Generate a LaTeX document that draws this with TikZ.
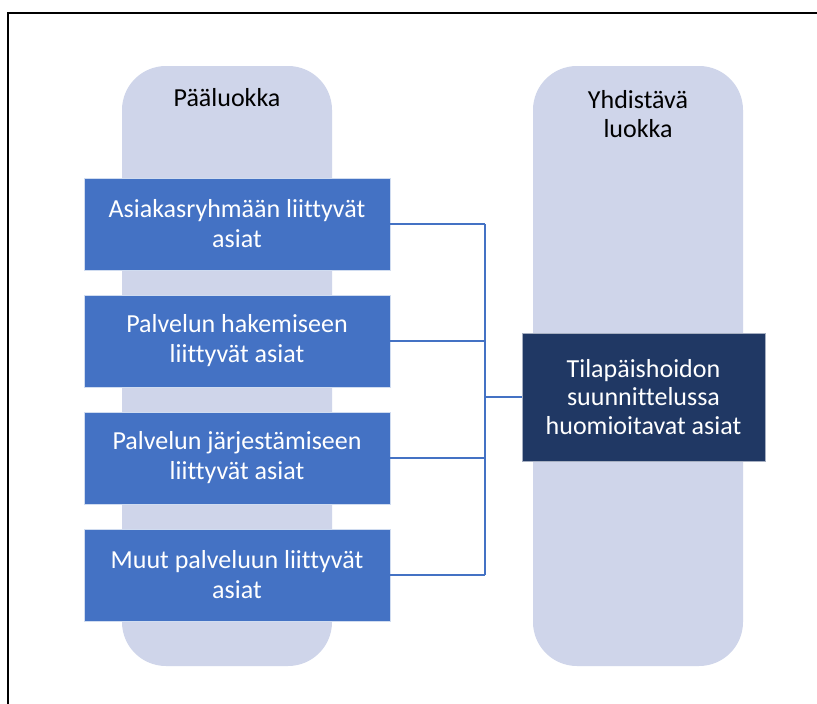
\documentclass[tikz,border=0pt]{standalone}
\usepackage{fontspec}
\setmainfont[Ligatures={NoCommon}]{Carlito}
\begin{document}
\begin{tikzpicture}[x=1pt,y=-1pt,
  lane/.style={fill=laneblue,draw=none,rounded corners=44pt,minimum width=210pt,minimum height=600pt,inner sep=0pt},
  head/.style={text=black,align=center,font=\fontsize{26}{28.5}\selectfont},
  item/.style={fill=itemblue,draw=white!75!itemblue,line width=0.8pt,text=white,align=center,
    minimum width=306pt,minimum height=92pt,inner sep=0pt,font=\fontsize{26}{30}\selectfont},
  result/.style={fill=darkblue,draw=white!60!darkblue,line width=0.8pt,text=white,align=center,
    minimum width=243pt,minimum height=128pt,inner sep=0pt,font=\fontsize{26}{28.5}\selectfont},
  conn/.style={draw=itemblue,line width=1.2pt}]
\definecolor{laneblue}{HTML}{CFD5EA}
\definecolor{itemblue}{HTML}{4472C4}
\definecolor{darkblue}{HTML}{203864}
\useasboundingbox (0,0) rectangle (817,704);
\fill[white] (0,0) rectangle (817,704);
% outer frame, open to the right and bottom
\draw[black,line width=2pt] (8.3,704) -- (8.3,12.5) -- (817,12.5);
% the two category lanes
\node[lane] (laneL) at (227,366) {};
\node[lane] (laneR) at (638,366) {};
\node[head] (headL) at (227,98) {Pääluokka};
\node[head] (headR) at (638,114) {Yhdistävä\\luokka};
% main category boxes
\node[item] (b1) at (237,224) {Asiakasryhmään liittyvät\\asiat};
\node[item] (b2) at (237,341) {Palvelun hakemiseen\\liittyvät asiat};
\node[item] (b3) at (237,458) {Palvelun järjestämiseen\\liittyvät asiat};
\node[item] (b4) at (237,575) {Muut palveluun liittyvät\\asiat};
% combining category box
\node[result] (res) at (643.5,397) {Tilapäishoidon\\suunnittelussa\\huomioitavat asiat};
% bracket connector
\coordinate (bus) at (485,397);
\draw[conn] (b1.east) -- (b1.east -| bus);
\draw[conn] (b2.east) -- (b2.east -| bus);
\draw[conn] (b3.east) -- (b3.east -| bus);
\draw[conn] (b4.east) -- (b4.east -| bus);
\draw[conn] (b1.east -| bus) -- (b4.east -| bus);
\draw[conn] (bus) -- (res.west);
\end{tikzpicture}
\end{document}
